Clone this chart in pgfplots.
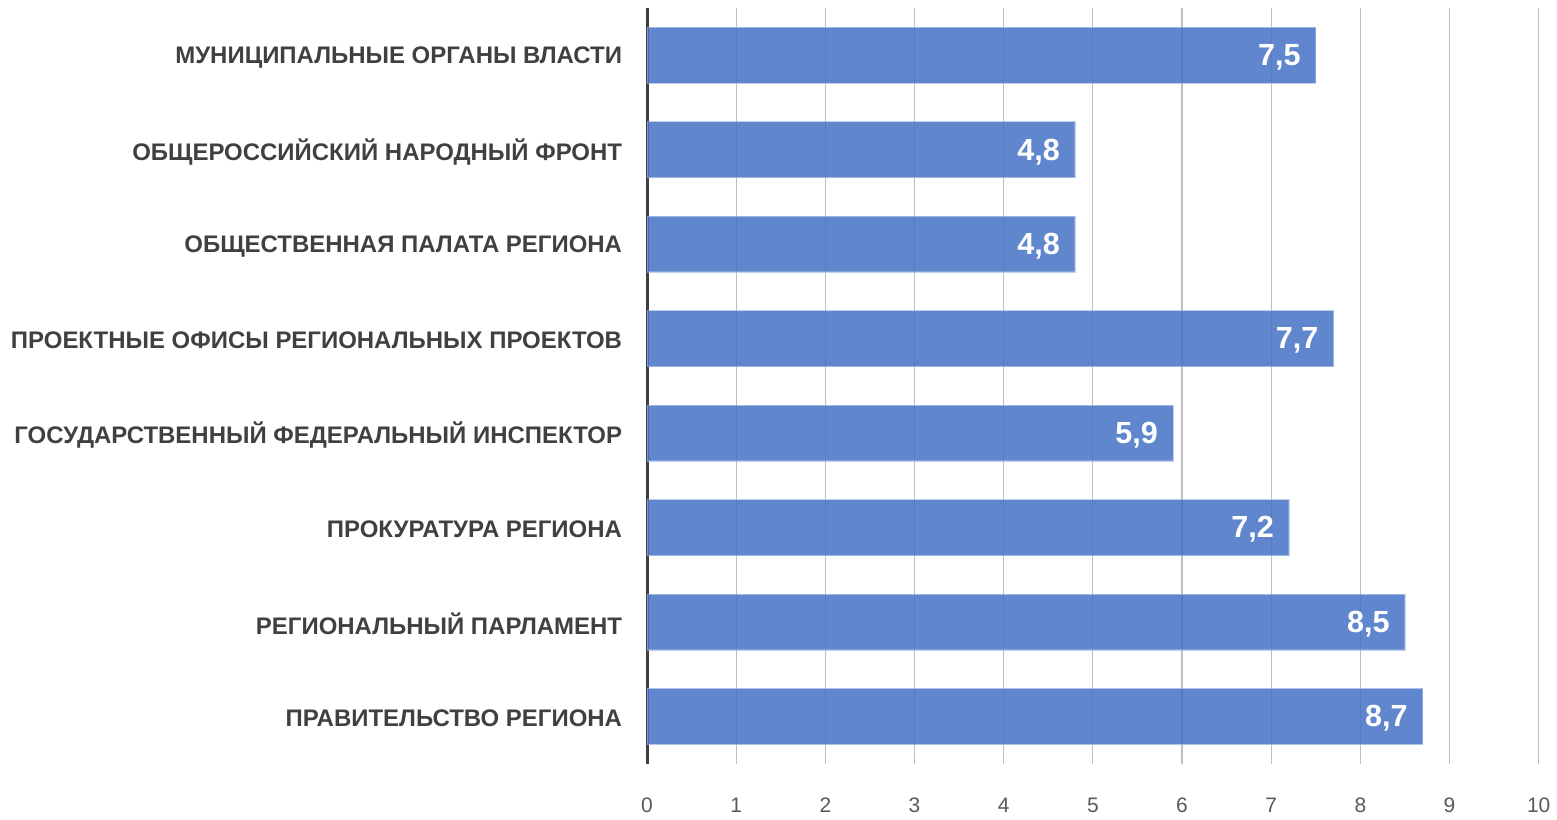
\documentclass[border=0pt]{standalone}
\usepackage{pgfplots}
\pgfplotsset{compat=1.18}
\usepackage{fontspec}
\setmainfont{Liberation Sans}
\definecolor{barblue}{HTML}{4472C4}
\definecolor{lblgray}{HTML}{404040}
\definecolor{tickgray}{HTML}{595959}
\definecolor{gridgray}{HTML}{BFBFBF}
\begin{document}
\begin{tikzpicture}
\begin{axis}[
  set layers,
  scale only axis,
  width=446.5pt, height=378.5pt,
  xbar, bar width=0.59,
  xmin=0, xmax=10, ymin=-0.5, ymax=7.5,
  xtick={0,...,10},
  ytick={0,...,7},
  yticklabels={ПРАВИТЕЛЬСТВО РЕГИОНА, РЕГИОНАЛЬНЫЙ ПАРЛАМЕНТ, ПРОКУРАТУРА РЕГИОНА, ГОСУДАРСТВЕННЫЙ ФЕДЕРАЛЬНЫЙ ИНСПЕКТОР, ПРОЕКТНЫЕ ОФИСЫ РЕГИОНАЛЬНЫХ ПРОЕКТОВ, ОБЩЕСТВЕННАЯ ПАЛАТА РЕГИОНА, ОБЩЕРОССИЙСКИЙ НАРОДНЫЙ ФРОНТ, МУНИЦИПАЛЬНЫЕ ОРГАНЫ ВЛАСТИ},
  axis y line*=left,
  axis x line*=bottom,
  x axis line style={draw=none},
  y axis line style={-, draw=lblgray, line width=1.5pt, on layer=axis foreground},
  major tick length=0pt,
  xmajorgrids,
  major grid style={gridgray, line width=0.6pt},
  /pgf/number format/assume math mode=true,
  /pgf/number format/use comma,
  xticklabel style={font=\fontsize{10.5}{12}\selectfont, text=tickgray, yshift=-13.5pt},
  yticklabel style={font=\bfseries\fontsize{12}{14}\selectfont, text=lblgray, xshift=-9pt, yshift=-1pt},
  nodes near coords,
  nodes near coords style={font=\bfseries\fontsize{15.3}{17}\selectfont, text=white, anchor=east, xshift=-4pt, yshift=-1pt,
    fill opacity=1, text opacity=1, draw opacity=1,
    /pgf/number format/.cd, fixed, precision=1, fixed zerofill, use comma, assume math mode=true},
]
\addplot[fill=barblue, fill opacity=0.85, draw=barblue!50, draw opacity=0.6, line width=0.6pt] coordinates {
 (8.7,0) (8.5,1) (7.2,2) (5.9,3) (7.7,4) (4.8,5) (4.8,6) (7.5,7)
};
\end{axis}
\path (-324pt,-25pt) rectangle (454.5pt,382.5pt);
\end{tikzpicture}
\end{document}
